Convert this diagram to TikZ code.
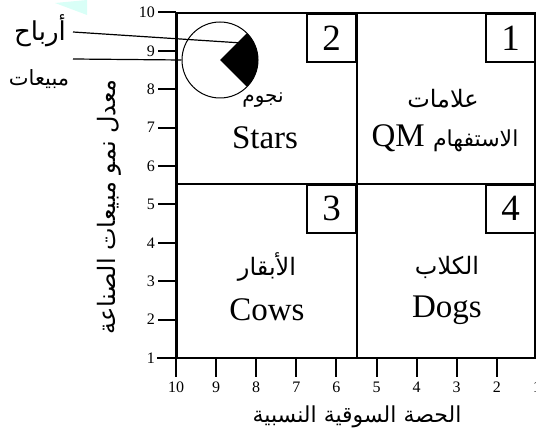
\documentclass[tikz,border=0pt]{standalone}
\usepackage{fontspec}
\setmainfont{Liberation Serif}
\newfontfamily\arabicfont[Script=Arabic]{DejaVu Sans}
\TeXXeTstate=1
\begin{document}
\begin{tikzpicture}[x=1pt,y=-1pt,
  gridline/.style={line width=2pt},
  tickline/.style={line width=2pt},
  numbox/.style={draw,line width=1.6pt,minimum width=49pt,minimum height=48pt,inner sep=0pt,anchor=north east,font=\fontsize{37}{37}\selectfont},
  ticklab/.style={font=\fontsize{16}{16}\selectfont,inner sep=1pt},
  arlab/.style={font=\arabicfont\fontsize{24}{28}\selectfont,inner sep=1pt},
  sidelab/.style={font=\arabicfont\fontsize{21}{24}\selectfont,inner sep=1pt},
  enlab/.style={font=\fontsize{33}{33}\selectfont,inner sep=1pt},
  axlab/.style={font=\arabicfont\fontsize{22}{26}\selectfont,inner sep=1pt}]
\useasboundingbox (0,0) rectangle (536,433);
% faint decoration
\fill[green!20!cyan!15] (55,3) -- (87,0) -- (87,15) -- cycle;
% grid
\draw[gridline] (177,13) rectangle (535,358);
\draw[gridline] (357,13) -- (357,358);
\draw[gridline] (177,184) -- (535,184);
% number boxes
\node[numbox] (n2) at (357,13) {2};
\node[numbox] (n1) at (536,13) {1};
\node[numbox] (n3) at (357,184) {3};
\node[numbox] (n4) at (536,184) {4};
% axes
\draw[tickline] (176,12) -- (176,377);
\draw[tickline] (157,358) -- (536,358);
\foreach \i in {1,...,10}{
  \draw[tickline] (158,{358-(\i-1)*38.4}) -- (176,{358-(\i-1)*38.4});
  \node[ticklab,anchor=east] (yl\i) at (156,{358-(\i-1)*38.4}) {\i};
}
\foreach \i in {1,...,10}{
  \draw[tickline] ({176+(10-\i)*40.1},358) -- ({176+(10-\i)*40.1},377);
  \node[ticklab,anchor=north] (xl\i) at ({176+(10-\i)*40.1},381) {\i};
}
% axis labels
\node[axlab] (xlab) at (357,417) {\beginR الحصة السوقية النسبية\endR};
\node[axlab,rotate=90,font=\arabicfont\fontsize{24}{28}\selectfont] (ylab) at (109,207) {\beginR معدل نمو مبيعات الصناعة\endR};
% quadrant labels
\node[arlab,font=\arabicfont\fontsize{20}{24}\selectfont] (q2a) at (263,100) {\beginR نجوم\endR};
\node[enlab] (q2b) at (265,138) {Stars};
\node[arlab] (q1a) at (443,99) {\beginR علامات\endR};
\node[enlab] (q1b) at (445,138) {\beginR{\arabicfont\fontsize{22}{24}\selectfont الاستفهام} \beginL QM\endL\endR};
\node[arlab] (q3a) at (267,267) {\beginR الأبقار\endR};
\node[enlab] (q3b) at (267,310) {Cows};
\node[arlab] (q4a) at (447,267) {\beginR الكلاب\endR};
\node[enlab] (q4b) at (447,310) {Dogs};
% pie
\node[circle,draw,fill=white,line width=1pt,minimum size=76pt,inner sep=0pt] (pie) at (220,60) {};
\fill[black] (pie.center) -- +(26.9,-26.9) arc[start angle=45,end angle=-45,radius=38pt] -- cycle;
% pie labels
\node[sidelab,font=\arabicfont\fontsize{26}{28}\selectfont] (rib) at (40,31) {\beginR أرباح\endR};
\node[sidelab] (mab) at (39,79) {\beginR مبيعات\endR};
\coordinate (ribend) at (242,43);
\coordinate (ribstart) at (73,32);
\coordinate (mabstart) at (73,59);
\draw[line width=1.2pt] (ribstart) -- (ribend);
\draw[line width=1.2pt] (mabstart) -- (pie.west);
\end{tikzpicture}
\end{document}
